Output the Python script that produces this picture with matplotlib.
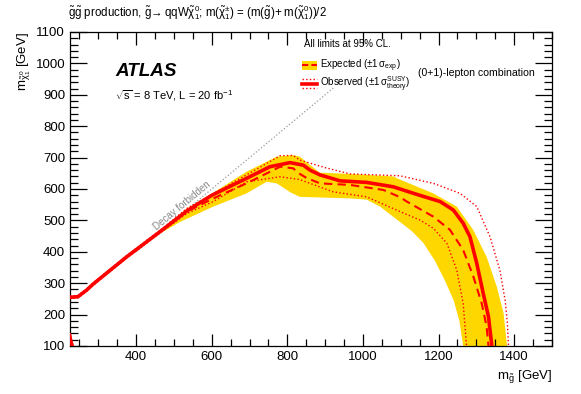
import matplotlib
matplotlib.use("Agg")
from matplotlib import pyplot as plt
from matplotlib.lines import Line2D
from matplotlib.patches import Patch
from matplotlib.legend_handler import HandlerBase, HandlerTuple
from matplotlib.ticker import MultipleLocator

plt.rcParams['font.family'] = ['Liberation Sans', 'DejaVu Sans']
plt.rcParams['mathtext.fontset'] = 'custom'
plt.rcParams['mathtext.rm'] = 'Liberation Sans'
plt.rcParams['mathtext.it'] = 'Liberation Sans'
plt.rcParams['mathtext.bf'] = 'Liberation Sans:bold'

# Observed limit
obs_x = [225, 246, 269, 286, 375, 463, 534, 600, 692, 754, 807, 842, 860, 886, 939, 1010, 1080,
         1142, 1204, 1239, 1265, 1283, 1301, 1318, 1332, 1341]
obs_y = [255, 257, 278, 297, 384, 464, 530, 580, 634, 671, 684, 676, 660, 645, 626, 621, 607,
         583, 560, 533, 491, 448, 363, 268, 193, 100]

# Expected limit
exp_x = [225, 246, 269, 286, 375, 463, 534, 604, 692, 781, 815, 833, 851, 886, 966, 1054, 1098,
         1116, 1186, 1230, 1265, 1292, 1314, 1327, 1332]
exp_y = [255, 257, 278, 297, 384, 464, 528, 570, 618, 671, 666, 648, 635, 618, 613, 597, 574,
         560, 512, 470, 406, 321, 236, 162, 100]

# +-1 sigma exp band
band_up_x = [225, 246, 269, 286, 375, 463, 534, 604, 692, 772, 815, 833, 851, 886, 966, 1080,
             1098, 1186, 1248, 1292, 1327, 1354, 1372, 1381]
band_up_y = [259, 261, 282, 301, 388, 468, 538, 588, 655, 703, 708, 703, 685, 652, 648, 640,
             630, 586, 544, 469, 384, 289, 204, 100]
band_lo_x = [225, 246, 269, 286, 375, 463, 516, 604, 692, 745, 772, 807, 833, 966, 1010, 1045,
             1098, 1130, 1160, 1190, 1215, 1240, 1255, 1265]
band_lo_y = [251, 253, 274, 293, 380, 458, 495, 544, 586, 623, 618, 590, 575, 570, 566, 544,
             495, 465, 428, 372, 313, 245, 180, 100]

# +-1 sigma theory
th_up_x = [225, 246, 269, 286, 375, 463, 534, 604, 692, 781, 815, 833, 900, 966, 1098, 1186,
           1257, 1301, 1336, 1362, 1376, 1382, 1385]
th_up_y = [259, 261, 282, 301, 388, 468, 538, 585, 645, 706, 707, 692, 668, 648, 642, 618,
           586, 544, 448, 342, 246, 172, 100]
th_lo_x = [225, 246, 269, 286, 375, 463, 534, 604, 692, 781, 833, 921, 1010, 1098, 1151, 1186,
           1222, 1248, 1265, 1274]
th_lo_y = [251, 253, 274, 293, 380, 460, 522, 560, 623, 639, 630, 591, 575, 528, 501, 475,
           427, 342, 236, 100]

# small observed piece in the lower left corner
corner_x = [224, 227, 231]
corner_y = [135, 116, 100]

# kinematic limit m(LSP) = m(gluino)
kin_x = [400, 925]
kin_y = [400, 925]


class HandlerObs(HandlerBase):
    def create_artists(self, legend, orig_handle, xdescent, ydescent,
                       width, height, fontsize, trans):
        y0 = height / 2.0 - ydescent
        arts = []
        for dy, ls, lw in [(height * 0.55, ':', 1.0), (0, '-', 2.6), (-height * 0.55, ':', 1.0)]:
            l = Line2D([-xdescent, width - xdescent], [y0 + dy, y0 + dy],
                       color='red', ls=ls, lw=lw, transform=trans)
            arts.append(l)
        return arts


fig = plt.figure(figsize=(5.81, 3.94), dpi=100)
ax = fig.add_axes([70 / 581, 1 - 346 / 394, 482 / 581, 314 / 394])

band_x = band_up_x + band_lo_x[::-1]
band_y = band_up_y + band_lo_y[::-1]
ax.fill(band_x, band_y, color='#ffd700', lw=0, zorder=1)

ax.plot(kin_x, kin_y, color='#999999', ls=':', lw=0.9, zorder=0.5)
ax.text(522, 548, 'Decay forbidden', color='#888888', fontsize=7,
        rotation=39.6, ha='center', va='center', rotation_mode='anchor')

ax.plot(exp_x, exp_y, color='red', ls=(0, (4, 2.5)), lw=1.5, zorder=3)
ax.plot(th_up_x, th_up_y, color='red', ls=':', lw=1.0, zorder=3)
ax.plot(th_lo_x, th_lo_y, color='red', ls=':', lw=1.0, zorder=3)
ax.plot(obs_x, obs_y, color='red', lw=2.6, zorder=4, solid_capstyle='butt', solid_joinstyle='round')
ax.plot(corner_x, corner_y, color='red', lw=2.6, zorder=4)

ax.set_xlim(225, 1500)
ax.set_ylim(100, 1100)
ax.xaxis.set_major_locator(MultipleLocator(200))
ax.xaxis.set_minor_locator(MultipleLocator(50))
ax.yaxis.set_major_locator(MultipleLocator(100))
ax.yaxis.set_minor_locator(MultipleLocator(20))
ax.tick_params(which='both', direction='in', top=True, right=True, labelsize=9.5, width=0.9)
ax.tick_params(axis='y', which='major', length=12)
ax.tick_params(axis='y', which='minor', length=6)
ax.tick_params(axis='x', which='major', length=9)
ax.tick_params(axis='x', which='minor', length=5)
for s in ax.spines.values():
    s.set_linewidth(0.9)

ax.set_xlabel(r'm$_{\tilde{g}}$ [GeV]', fontsize=9.5, loc='right', labelpad=4)
ax.set_ylabel(r'm$_{\tilde{\chi}^{0}_{1}}$ [GeV]', fontsize=9.5, loc='top', labelpad=2)

fig.text(68 / 581, 1 - 13 / 394,
         r'$\tilde{g}\tilde{g}$ production, $\tilde{g}\!\rightarrow$qqW$\tilde{\chi}^{0}_{1}$; '
         r'm($\tilde{\chi}^{\pm}_{1}$) = (m($\tilde{g}$)+ m($\tilde{\chi}^{0}_{1}$))/2',
         fontsize=8.3, va='center', ha='left')

fig.text(304 / 581, 1 - 44 / 394, 'All limits at 95% CL.', fontsize=7, va='center')
fig.text(418 / 581, 1 - 73 / 394, '(0+1)-lepton combination', fontsize=7.6, va='center')
fig.text(115 / 581, 1 - 72 / 394, 'ATLAS', fontsize=13.6, fontweight='bold', style='italic', va='center')
fig.text(115 / 581, 1 - 96 / 394, r'$\sqrt{\mathrm{s}}$ = 8 TeV, L = 20 fb$^{-1}$', fontsize=8, va='center')

h_exp = (Patch(facecolor='#ffd700', edgecolor='none'),
         Line2D([], [], color='red', ls=(0, (3, 1.5)), lw=1.5))
h_obs = Line2D([], [], color='red')
leg = fig.legend([h_exp, h_obs],
                 [r'Expected ($\pm1\,\sigma_{\mathrm{exp}}$)',
                  r'Observed ($\pm1\,\sigma^{\mathrm{SUSY}}_{\mathrm{theory}}$)'],
                 handler_map={tuple: HandlerTuple(ndivide=1), h_obs: HandlerObs()},
                 loc='upper left', bbox_to_anchor=(300 / 581, 1 - 56 / 394),
                 frameon=False, fontsize=7, handlelength=1.5, handleheight=1.0,
                 handletextpad=0.4, labelspacing=0.02, borderpad=0.2, borderaxespad=0)

fig.savefig('out.png', dpi=100)
